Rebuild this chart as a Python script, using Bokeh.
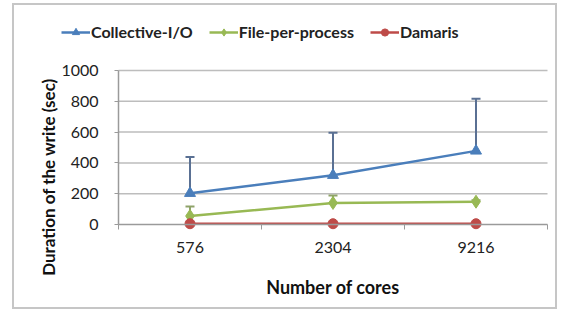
from bokeh.plotting import figure
from bokeh.models import (ColumnDataSource, Whisker, TeeHead, FixedTicker,
                          Legend, LegendItem, LinearAxis)
from bokeh.embed import file_html
from bokeh.resources import INLINE

cores = ["576", "2304", "9216"]
collective = [203, 320, 478]
collective_err = [235, 275, 338]
fpp = [55, 140, 148]
fpp_err = [62, 48, 10]
damaris = [5, 5, 5]
series_names = ["Collective-I/O", "File-per-process", "Damaris"]
y_ticks = [0, 200, 400, 600, 800, 1000]

BLUE = "#4A7EBB"
GREEN = "#98B954"
RED = "#BE4B48"
GRID = "#bdbdbd"
AXIS = "#9a9a9a"
FONT = "Lato"

n = len(cores)
x = [i + 0.5 for i in range(n)]
ymax = y_ticks[-1]

# layout geometry (pixels): canvas size, axis origin inside it,
# 143 px per category, 0.154 px per second
CW, CH = 545, 306
OX, OY = 104, 219
PX_CAT, PX_SEC = 143, 0.154

p = figure(width=CW, height=CH, output_backend="svg", toolbar_location=None,
           x_range=(-OX / PX_CAT, (CW - OX) / PX_CAT),
           y_range=(-(CH - OY) / PX_SEC, OY / PX_SEC),
           x_axis_location=None, y_axis_location=None,
           min_border=0,
           styles={"border": "2px solid #c6c6c6", "margin-left": "12px",
                   "margin-top": "3px"})
p.outline_line_color = None
p.grid.grid_line_color = None

# horizontal gridlines limited to the plotting area
gsrc = ColumnDataSource(dict(y=y_ticks[1:], x0=[0] * (len(y_ticks) - 1),
                             x1=[n] * (len(y_ticks) - 1)))
p.segment(x0="x0", x1="x1", y0="y", y1="y", source=gsrc, line_color=GRID,
          line_width=1.5, level="underlay")

xaxis = LinearAxis(fixed_location=0, bounds=(0, n),
                   ticker=FixedTicker(ticks=x, minor_ticks=list(range(n + 1))),
                   major_label_overrides={xi: c for xi, c in zip(x, cores)},
                   major_tick_line_color=None, major_tick_out=0, major_tick_in=0,
                   minor_tick_out=5, minor_tick_in=0, minor_tick_line_color=AXIS,
                   axis_line_color=AXIS, axis_line_width=1.5,
                   axis_label="Number of cores",
                   major_label_text_font=FONT, major_label_text_font_size="16px",
                   major_label_text_color="#222222", major_label_standoff=12,
                   axis_label_text_font=FONT, axis_label_text_font_size="18px",
                   axis_label_text_font_style="bold",
                   axis_label_text_color="#111111", axis_label_standoff=20)
p.add_layout(xaxis, "below")

yaxis = LinearAxis(fixed_location=0, bounds=(0, ymax),
                   ticker=FixedTicker(ticks=y_ticks, minor_ticks=[]),
                   major_tick_out=4, major_tick_in=0,
                   major_tick_line_color=AXIS, minor_tick_line_color=None,
                   axis_line_color=AXIS, axis_line_width=1.5,
                   major_label_text_font=FONT, major_label_text_font_size="16px",
                   major_label_text_color="#222222", major_label_standoff=16)
p.add_layout(yaxis, "left")

# y-axis title, centred on the whole chart height like the original
ytitle = LinearAxis(fixed_location=0, bounds=(-380, ymax),
                    ticker=FixedTicker(ticks=[], minor_ticks=[]),
                    axis_line_color=None, major_tick_line_color=None,
                    minor_tick_line_color=None,
                    axis_label="Duration of the write (sec)",
                    axis_label_text_font=FONT, axis_label_text_font_size="17px",
                    axis_label_text_font_style="bold",
                    axis_label_text_color="#111111", axis_label_standoff=60)
p.add_layout(ytitle, "left")

cu = [v + e for v, e in zip(collective, collective_err)]
fu = [v + e for v, e in zip(fpp, fpp_err)]
src = ColumnDataSource(dict(x=x, c=collective, cu=cu, f=fpp, fu=fu, d=damaris))

p.add_layout(Whisker(source=src, base="x", lower="c", upper="cu",
                     line_color="#5A7093", line_width=2,
                     upper_head=TeeHead(size=9, line_color="#5A7093", line_width=2),
                     lower_head=None))
p.add_layout(Whisker(source=src, base="x", lower="f", upper="fu",
                     line_color="#8FA36A", line_width=2,
                     upper_head=TeeHead(size=9, line_color="#8FA36A", line_width=2),
                     lower_head=None))

styles = [
    ("c", BLUE, "triangle", 11),
    ("f", GREEN, "diamond", 13),
    ("d", RED, "circle", 10),
]
items = []
for name, (col, color, marker, size) in zip(series_names, styles):
    r1 = p.line("x", col, source=src, line_color=color, line_width=2.5)
    r2 = p.scatter("x", col, source=src, marker=marker, size=size,
                   fill_color=color, line_color=color)
    items.append(LegendItem(label=name, renderers=[r1, r2]))

legend = Legend(items=items, orientation="horizontal",
                location=(47, CH - 36),
                label_text_font=FONT, label_text_font_size="16px",
                label_text_font_style="bold", label_text_color="#222222",
                glyph_width=29, glyph_height=18, label_standoff=1, spacing=16,
                padding=0, margin=0, border_line_color=None,
                background_fill_alpha=0)
p.add_layout(legend, "center")

open("out.html", "w").write(file_html(p, INLINE))
